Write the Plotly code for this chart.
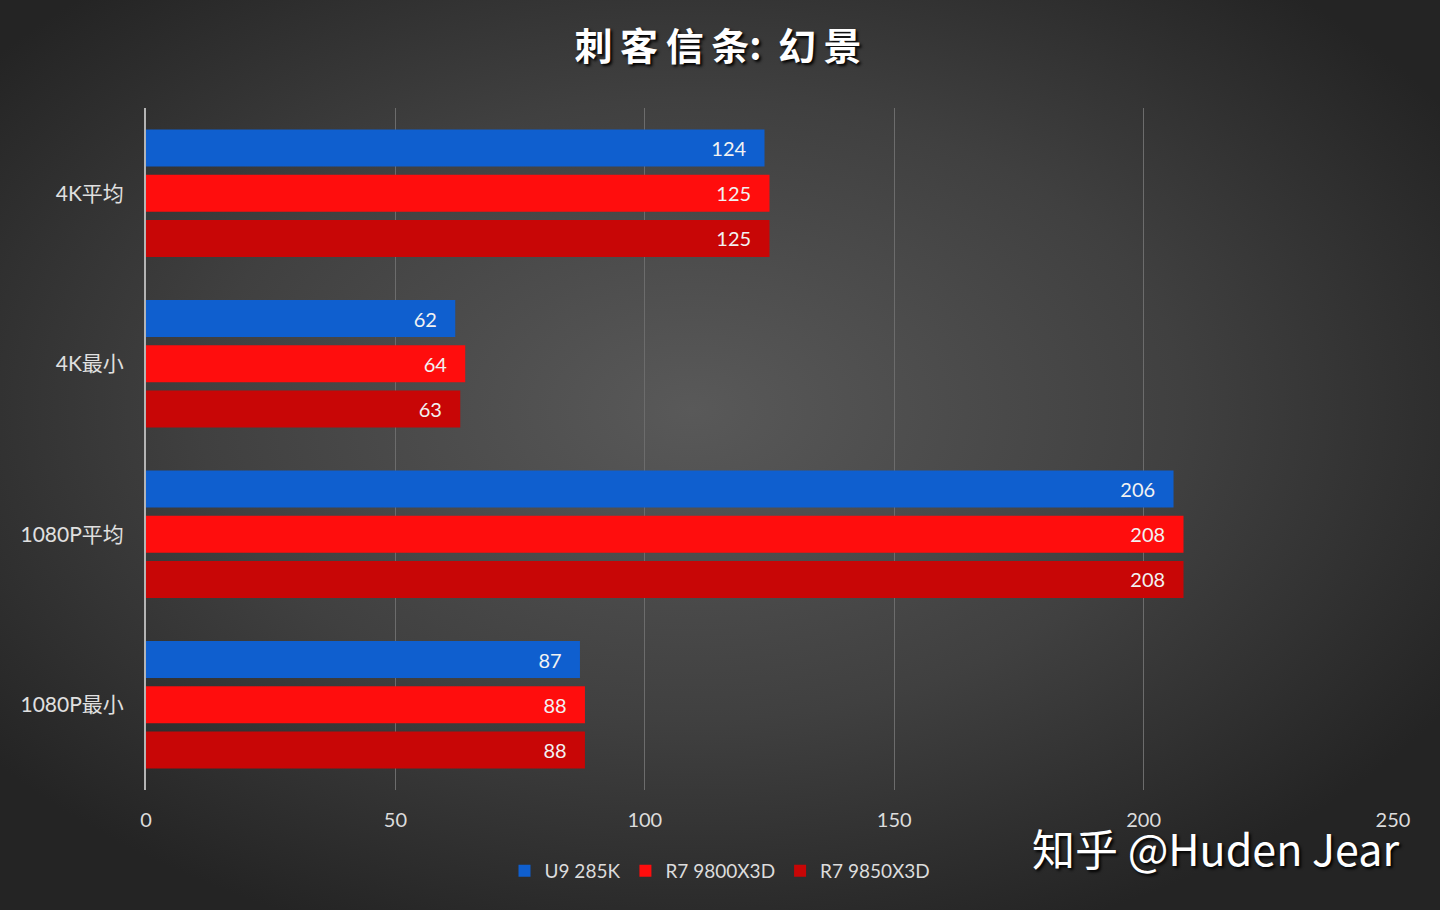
import base64
import plotly.graph_objects as go

categories = ["4K平均", "4K最小", "1080P平均", "1080P最小"]
series_names = ["U9 285K", "R7 9800X3D", "R7 9850X3D"]
u9_285k = [124, 62, 206, 87]
r7_9800x3d = [125, 64, 208, 88]
r7_9850x3d = [125, 63, 208, 88]
x_ticks = [0, 50, 100, 150, 200, 250]
title_text = "刺客信条: 幻景"
watermark = "知乎 @Huden Jear"

colors = ["#0f5fcf", "#ff0d0d", "#c80606"]
values = [u9_285k, r7_9800x3d, r7_9850x3d]

W, H = 1440, 910
ML, MR, MT, MB = 146, 47, 108, 120
PW, PH = W - ML - MR, H - MT - MB

svg = f'''<svg xmlns="http://www.w3.org/2000/svg" width="{W}" height="{H}" viewBox="0 0 {W} {H}" preserveAspectRatio="none">
<defs><radialGradient id="g" cx="0.48" cy="0.45" r="0.62" gradientUnits="objectBoundingBox">
<stop offset="0" stop-color="#595959"/><stop offset="0.55" stop-color="#404040"/><stop offset="1" stop-color="#242424"/>
</radialGradient></defs><rect width="{W}" height="{H}" fill="url(#g)"/></svg>'''
bg_uri = "data:image/svg+xml;base64," + base64.b64encode(svg.encode()).decode()

font_main = "Lato, 'Noto Sans CJK SC', sans-serif"
pad = "\u00a0\u00a0\u00a0"
head, tail = title_text.split(": ")
spaced_title = "\u2009".join(head) + ":\u00a0\u2009" + "\u2009".join(tail)

fig = go.Figure()
for name, vals, col in zip(series_names, values, colors):
    fig.add_trace(go.Bar(
        y=categories, x=vals, name=name, orientation="h",
        marker=dict(color=col, line=dict(width=0)),
        text=[f"{v}{pad}" for v in vals], textposition="inside", insidetextanchor="end",
        textfont=dict(color="#f2f2f2", size=20, family=font_main),
        cliponaxis=False,
    ))

fig.update_layout(
    width=W, height=H,
    margin=dict(l=ML, r=MR, t=MT, b=MB, autoexpand=False),
    paper_bgcolor="#333333", plot_bgcolor="rgba(0,0,0,0)",
    barmode="group", bargap=0.205, bargroupgap=0.18,
    title=dict(text=spaced_title, x=(718 / W), xanchor="center", y=1 - 47 / H, yanchor="middle",
               font=dict(family="'Noto Sans CJK SC', sans-serif", size=38, color="#ffffff",
                         weight="bold", shadow="2px 2px 3px #000000")),
    xaxis=dict(range=[0, 250], tickvals=x_ticks, showgrid=True, gridcolor="#6c6c6c", gridwidth=1,
               zeroline=False, showline=False, ticks="", ticklabelstandoff=16,
               tickfont=dict(family=font_main, size=20, color="#dcdcdc")),
    yaxis=dict(autorange="reversed", showgrid=False, showline=True, linecolor="#b4b4b4", linewidth=2,
               ticks="", ticklabelstandoff=16,
               tickfont=dict(family=font_main, size=21, color="#e0e0e0")),
    legend=dict(orientation="h", x=(720 - ML) / PW, xanchor="center", y=-(871 - (H - MB)) / PH,
                yanchor="middle", font=dict(family=font_main, size=19, color="#dcdcdc"),
                bgcolor="rgba(0,0,0,0)", traceorder="normal"),
    images=[dict(source=bg_uri, xref="paper", yref="paper", x=-ML / PW, y=1 + MT / PH,
                 sizex=W / PW, sizey=H / PH, xanchor="left", yanchor="top",
                 sizing="stretch", layer="below")],
    annotations=[dict(text=watermark, xref="paper", yref="paper", x=(1401 - ML) / PW,
                      y=-(847 - (H - MB)) / PH, xanchor="right", yanchor="middle", showarrow=False,
                      font=dict(family="'Noto Sans CJK SC', sans-serif", size=43, color="#ffffff",
                                shadow="2px 2px 3px #000000"))],
)

fig.write_html("out.html", config={"displayModeBar": False},
               post_script="document.body.style.margin='0';")
